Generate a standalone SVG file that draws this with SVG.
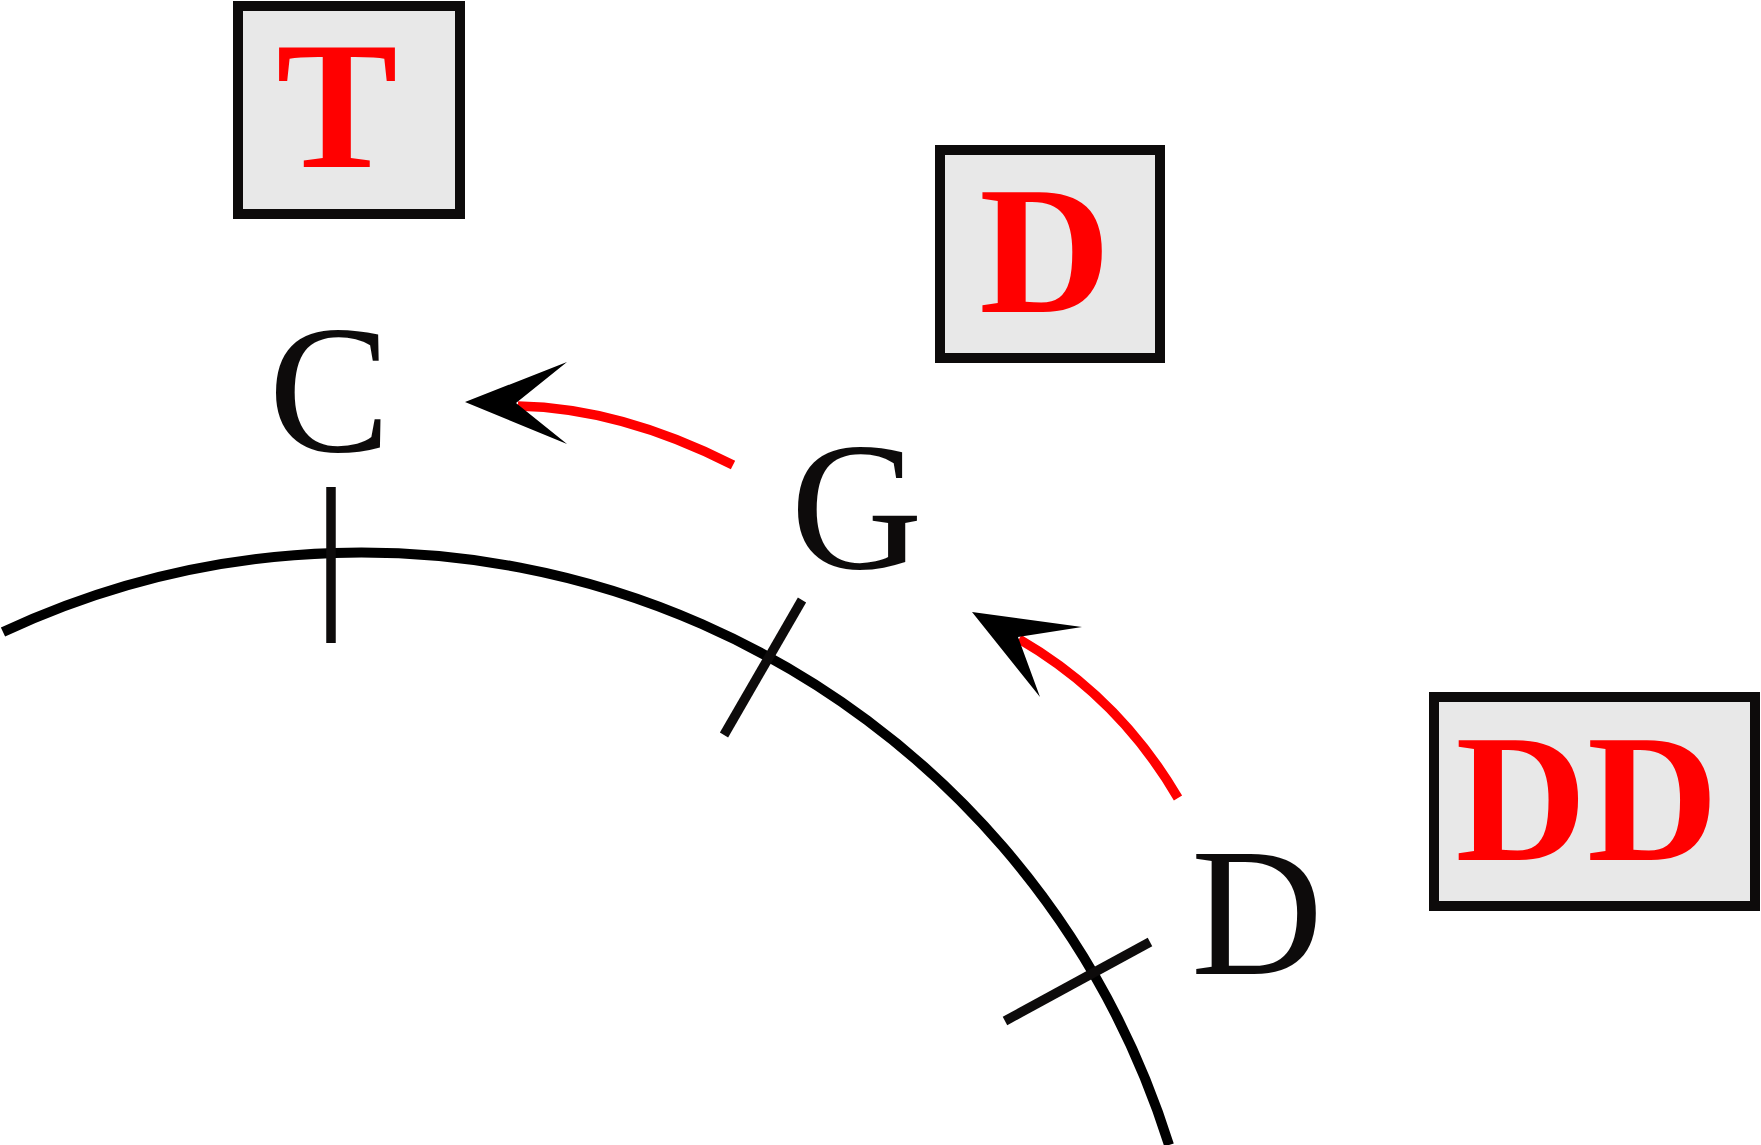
<svg xmlns="http://www.w3.org/2000/svg" width="1761" height="1145" viewBox="0 0 1761 1145">
<style>
.box{fill:#e8e8e8;stroke:#0d0b0b;stroke-width:10}
.red{font-family:"Liberation Serif","Times New Roman",serif;font-weight:bold;font-size:182px;fill:#ff0000;text-anchor:middle}
.blk{font-family:"Liberation Serif","Times New Roman",serif;font-size:183px;fill:#0d0b0b;text-anchor:middle}
.tick{stroke:#0d0b0b;stroke-width:9.5;fill:none}
.flow{stroke:#ff0000;stroke-width:9.5;fill:none}
.head{fill:#000}
</style>
<rect width="1761" height="1145" fill="#fff"/>
<g id="arc">
<path d="M 3 632 A 847 847 0 0 1 1169 1145" fill="none" stroke="#000" stroke-width="10"/>
</g>
<g id="node-T"><rect class="box" x="238" y="6" width="222" height="208"/><text class="red" x="337" y="167">T</text></g>
<g id="node-D"><rect class="box" x="940" y="150" width="220" height="208"/><text class="red" x="1045" y="312">D</text></g>
<g id="node-DD"><rect class="box" x="1434" y="697" width="321" height="209"/><text class="red" x="1587" y="860">DD</text></g>
<g id="node-C"><text class="blk" x="329.5" y="451">C</text></g>
<g id="node-G"><text class="blk" x="856.5" y="568">G</text></g>
<g id="node-Dlow"><text class="blk" x="1257" y="974">D</text></g>
<g id="connectors">
<line class="tick" x1="331" y1="487" x2="331" y2="643"/>
<line class="tick" x1="802" y1="600" x2="724" y2="735"/>
<line class="tick" x1="1150" y1="942" x2="1005" y2="1021"/>
<path class="flow" d="M 518 406 Q 621 408 733 465"/>
<polygon class="head" points="465,402 567,362 516,403 567,444"/>
<path class="flow" d="M 1019 639 Q 1119 697 1178 798"/>
<polygon class="head" points="972,612 1082,627 1018,637 1040,697"/>
</g>
</svg>
